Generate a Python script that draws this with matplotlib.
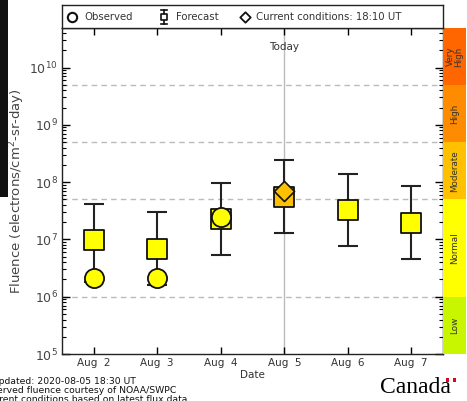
import matplotlib
matplotlib.use("Agg")
import matplotlib.pyplot as plt
from matplotlib.patches import Rectangle
from matplotlib.ticker import LogLocator, FixedLocator, NullFormatter
import numpy as np

# ---------------- data ----------------
dates = ["Aug  2", "Aug  3", "Aug  4", "Aug  5", "Aug  6", "Aug  7"]
forecast = [9.6e6, 6.9e6, 2.3e7, 5.6e7, 3.2e7, 1.95e7]
forecast_low = [1.8e6, 1.6e6, 5.3e6, 1.3e7, 7.6e6, 4.5e6]
forecast_high = [4.2e7, 3.0e7, 9.6e7, 2.4e8, 1.4e8, 8.5e7]
observed_days = ["Aug  2", "Aug  3", "Aug  4"]
observed = [2.1e6, 2.1e6, 2.5e7]
current_day = "Aug  5"
current_value = 7.0e7
today = "Aug  5"

band_names = ["Low", "Normal", "Moderate", "High", "Very\nHigh"]
band_edges = [1e5, 1e6, 5e7, 5e8, 5e9, 4.9e10]
band_colors = ["#c8f500", "#ffff00", "#ffc000", "#ff8c00", "#ff6600"]
ylabel = "Fluence (electrons/cm$^2$-sr-day)"
xlabel = "Date"
footer = ["Updated: 2020-08-05 18:30 UT",
          "Observed fluence courtesy of NOAA/SWPC",
          "Current conditions based on latest flux data"]

def level_color(v):
    for i in range(len(band_colors)):
        if band_edges[i] <= v < band_edges[i + 1]:
            return band_colors[i]
    return band_colors[-1]

# ---------------- figure ----------------
W, H = 467, 401
fig = plt.figure(figsize=(W / 100, H / 100), dpi=100)
plt.rcParams['font.family'] = ['DejaVu Sans']

def fx(px): return px / W
def fy(py): return 1 - py / H

L, R, T, B = 62, 443, 28, 354
ax = fig.add_axes([fx(L), fy(B), fx(R - L), (B - T) / H])
x = np.arange(len(dates))
ymin, ymax = band_edges[0], band_edges[-1]
ax.set_yscale("log")
ax.set_ylim(ymin, ymax)
ax.set_xlim(-0.5, len(dates) - 0.5)

# dashed reference lines at band boundaries
for v in band_edges[1:-1]:
    ax.axhline(v, color="#bbbbbb", ls=(0, (4, 3)), lw=1, zorder=1)

# today line
ti = dates.index(today)
ax.axvline(x[ti], color="#bbbbbb", lw=1, zorder=1)
ax.text(x[ti], 0.942, "Today", transform=ax.get_xaxis_transform(),
        ha="center", va="center", fontsize=7.5, color="#333333")

# forecast error bars
fl = np.array(forecast)
ax.errorbar(x, fl, yerr=[fl - np.array(forecast_low), np.array(forecast_high) - fl],
            fmt="none", ecolor="#222222", elinewidth=1.5, capsize=7, capthick=1.5, zorder=2)
for xi, v in zip(x, forecast):
    ax.scatter([xi], [v], marker="s", s=190, facecolor=level_color(v),
               edgecolor="#111111", linewidth=1.3, zorder=3)

# observed
ox = [dates.index(d) for d in observed_days]
for xi, v in zip(ox, observed):
    ax.scatter([xi], [v], marker="o", s=190, facecolor=level_color(v),
               edgecolor="#111111", linewidth=1.3, zorder=4)

# current
ci = dates.index(current_day)
ax.scatter([ci], [current_value], marker="D", s=105, facecolor=level_color(current_value),
           edgecolor="#111111", linewidth=1.2, zorder=5)

# ticks
ax.set_xticks(x)
ax.set_xticklabels(dates, fontsize=7.5, color="#333333")
ax.tick_params(axis="x", which="both", direction="in", top=True, bottom=True,
               length=5, width=1, pad=3)
ax.yaxis.set_major_locator(FixedLocator([1e5, 1e6, 1e7, 1e8, 1e9, 1e10]))
ax.yaxis.set_minor_locator(LogLocator(base=10, subs=np.arange(2, 10), numticks=20))
ax.yaxis.set_minor_formatter(NullFormatter())
ax.set_yticklabels(["10$^{%d}$" % k for k in range(5, 11)])
ax.tick_params(axis="y", which="major", direction="in", left=True, right=True,
               length=6, width=1, labelsize=9, labelcolor="#444444", pad=3)
ax.tick_params(axis="y", which="minor", direction="in", left=True, right=True,
               length=3, width=0.8)
for s in ax.spines.values():
    s.set_color("#222222")
    s.set_linewidth(1)
ax.set_xlabel(xlabel, fontsize=7.5, color="#333333", labelpad=1)
ax.set_ylabel(ylabel, fontsize=9.5, color="#444444")
ax.yaxis.set_label_coords((27 - L) / (R - L), 0.5)

# level band
bax = fig.add_axes([fx(R), fy(B), fx(23), (B - T) / H])
bax.set_yscale("log")
bax.set_ylim(ymin, ymax)
bax.set_xlim(0, 1)
for i, name in enumerate(band_names):
    lo, hi = band_edges[i], band_edges[i + 1]
    bax.add_patch(Rectangle((0, lo), 1, hi - lo, facecolor=band_colors[i], edgecolor="none"))
    mid = 10 ** ((np.log10(lo) + np.log10(hi)) / 2)
    bax.text(0.5, mid, name, rotation=90, ha="center", va="center",
             fontsize=6.3, color="#333333", linespacing=0.9)
bax.set_axis_off()

# legend box
lax = fig.add_axes([fx(L), fy(T), fx(R - L), (T - 5) / H])
lax.set_xlim(L, R)
lax.set_ylim(28, 5)
lax.set_xticks([]); lax.set_yticks([])
for s in lax.spines.values():
    s.set_color("#222222"); s.set_linewidth(1)
ly = 16.5
lax.scatter([72], [ly], marker="o", s=45, facecolor="white", edgecolor="#111111", linewidth=1.5)
lax.text(84, ly, "Observed", fontsize=7.3, va="center", color="#333333")
lax.plot([164, 164], [9.5, 23.5], color="#111111", lw=1.2)
lax.plot([161, 167], [9.5, 9.5], color="#111111", lw=1.2)
lax.plot([161, 167], [23.5, 23.5], color="#111111", lw=1.2)
lax.scatter([164], [ly], marker="s", s=18, facecolor="white", edgecolor="#111111", linewidth=1.2, zorder=3)
lax.text(176, ly, "Forecast", fontsize=7.3, va="center", color="#333333")
lax.scatter([245], [ly], marker="D", s=28, facecolor="white", edgecolor="#111111", linewidth=1.3)
lax.text(256, ly, "Current conditions: 18:10 UT", fontsize=7.3, va="center", color="#333333")

# dark strip from screenshot on the far left
fig.patches.append(Rectangle((0, fy(197)), fx(8), 197 / H, transform=fig.transFigure,
                             facecolor="#111111", edgecolor="none"))

# footer (left part cut off, as in the reference screenshot)
ends = [136, 176, 187]
for i, line in enumerate(footer):
    fig.text(fx(ends[i]), fy(382 + 8.5 * i), line, fontsize=6.7,
             va="center", ha="right", color="#111111")

# Canada wordmark
fig.text(fx(380), fy(393), "Canada", fontsize=17, family="Liberation Serif",
         va="baseline", ha="left", color="black")
fig.patches.append(Rectangle((fx(446), fy(382)), fx(10), 4.5 / H, transform=fig.transFigure,
                             facecolor="#d80621", edgecolor="none"))
fig.patches.append(Rectangle((fx(449), fy(382)), fx(4), 4.5 / H, transform=fig.transFigure,
                             facecolor="white", edgecolor="none"))

fig.savefig("out.png", dpi=100)
